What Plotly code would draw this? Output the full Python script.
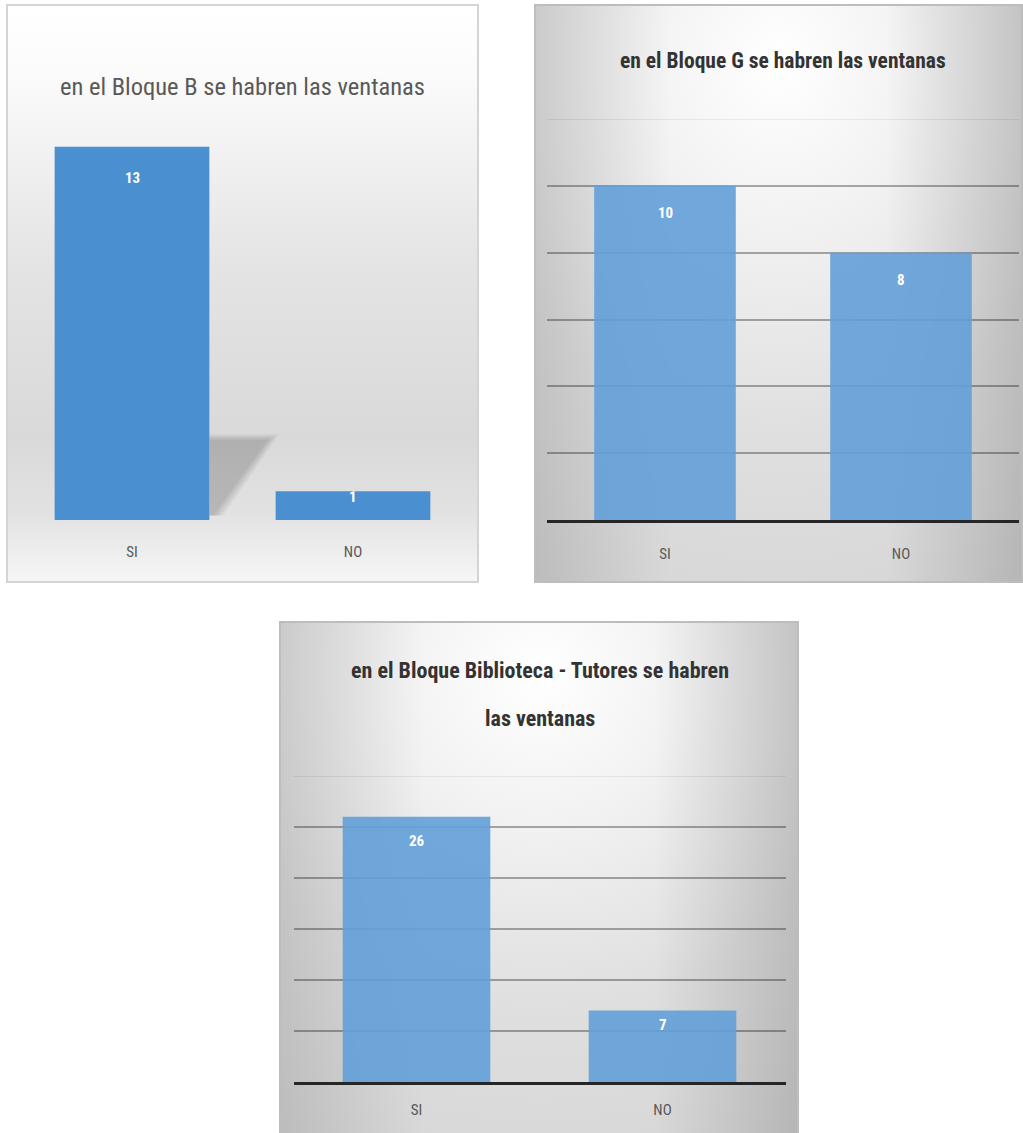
import base64
import plotly.graph_objects as go

# ---- data -------------------------------------------------------------
categories = ["SI", "NO"]
bloque_b = [13, 1]
bloque_g = [10, 8]
biblioteca = [26, 7]

title_b = "en el Bloque B se habren las ventanas"
title_g = "en el Bloque G se habren las ventanas"
title_bib = ["en el Bloque Biblioteca - Tutores se habren", "las ventanas"]

# ---- page geometry (pixels) ------------------------------------------
W, H = 1023, 1133
COND = "Roboto Condensed, DejaVu Sans Condensed, sans-serif"


def px_x(x0, x1):
    return [x0 / W, x1 / W]


def px_y(top, bottom):
    return [1 - bottom / H, 1 - top / H]


def svg_uri(svg):
    return "data:image/svg+xml;base64," + base64.b64encode(svg.encode()).decode()


def stops_xml(stops):
    out = []
    for o, c, *a in stops:
        op = f' stop-opacity="{a[0]}"' if a else ""
        out.append(f'<stop offset="{o}" stop-color="{c}"{op}/>')
    return "".join(out)


def linear_bg(w, h, stops):
    return svg_uri(
        f'<svg xmlns="http://www.w3.org/2000/svg" width="{w}" height="{h}" '
        f'viewBox="0 0 {w} {h}" preserveAspectRatio="none">'
        f'<defs><linearGradient id="g" x1="0" y1="0" x2="0" y2="1">{stops_xml(stops)}'
        f'</linearGradient></defs><rect width="{w}" height="{h}" fill="url(#g)"/></svg>'
    )


def radial_bg(w, h, stops, edge, cx="50%", cy="10%", r="100%"):
    return svg_uri(
        f'<svg xmlns="http://www.w3.org/2000/svg" width="{w}" height="{h}" '
        f'viewBox="0 0 {w} {h}" preserveAspectRatio="none"><defs>'
        f'<radialGradient id="g" cx="{cx}" cy="{cy}" r="{r}">{stops_xml(stops)}</radialGradient>'
        f'<linearGradient id="e" x1="0" y1="0" x2="1" y2="0">{stops_xml(edge)}</linearGradient>'
        f'</defs><rect width="{w}" height="{h}" fill="url(#g)"/>'
        f'<rect width="{w}" height="{h}" fill="url(#e)"/></svg>'
    )


# panel frames: (left, top, right, bottom)
frames = [(7, 5, 478, 582), (535, 5, 1022, 582), (280, 622, 798, 1140)]

# plot areas: (left, top, right, bottom, ymax)
plots = [
    (21.5, 118, 463.5, 520, 14),
    (547, 119, 1019, 520, 12),
    (293.5, 776, 785.5, 1082, 30),
]

fig = go.Figure()

series = [bloque_b, bloque_g, biblioteca]
bar_colors = ["#4a8fd0", "rgba(99,160,217,0.9)", "rgba(99,160,217,0.9)"]
gaps = [0.3, 0.4, 0.4]
label_off = [31, 27, 24]

for i, vals in enumerate(series):
    n = "" if i == 0 else str(i + 1)
    fig.add_trace(go.Bar(
        x=categories, y=vals, xaxis="x" + n, yaxis="y" + n,
        width=1 - gaps[i],
        marker=dict(color=bar_colors[i], line=dict(width=0)),
        hoverinfo="x+y", showlegend=False,
    ))

layout = dict(
    width=W, height=H, margin=dict(l=0, r=0, t=0, b=0),
    paper_bgcolor="white", plot_bgcolor="rgba(0,0,0,0)",
    showlegend=False, images=[], shapes=[], annotations=[],
)

grid_dtick = [None, 2, 5]
tick_len = [18, 18, 12]
for i, (l, t, r, b, ymax) in enumerate(plots):
    n = "" if i == 0 else str(i + 1)
    xa = dict(
        domain=px_x(l, r), anchor="y" + n, type="category",
        range=[-0.5, 1.5], showgrid=False, zeroline=False,
        ticks="outside", ticklen=tick_len[i], tickcolor="rgba(0,0,0,0)",
        tickfont=dict(family=COND, size=15, color="#595959"),
        showline=(i > 0), linecolor="#262626", linewidth=3,
        fixedrange=True,
    )
    if i > 0:
        xa["layer"] = "above traces"
    ya = dict(
        domain=px_y(t, b), anchor="x" + n, range=[0, ymax],
        showticklabels=False, zeroline=False, fixedrange=True,
        showgrid=grid_dtick[i] is not None,
        gridcolor="rgba(0,0,0,0.32)", gridwidth=2,
    )
    if grid_dtick[i]:
        ya["tickmode"] = "array"
        ya["tickvals"] = list(range(grid_dtick[i], ymax, grid_dtick[i]))
        # faint rule at the top of the value axis
        layout["shapes"].append(dict(
            type="line", xref="x" + n + " domain", yref="y" + n,
            x0=0, x1=1, y0=ymax, y1=ymax, layer="below",
            line=dict(color="rgba(0,0,0,0.07)", width=2),
        ))
    layout["xaxis" + n] = xa
    layout["yaxis" + n] = ya

    # value labels inside each bar, near its top
    ppu = (b - t) / ymax
    for c, v in zip(categories, series[i]):
        shift = min(label_off[i], v * ppu * 0.2)
        layout["annotations"].append(dict(
            x=c, y=v, xref="x" + n, yref="y" + n, yshift=-shift,
            text=f"<b>{v}</b>", showarrow=False, yanchor="middle",
            font=dict(family=COND, size=15, color="white"),
        ))

# panel backgrounds
edge = [(0, "#000000", 0.12), (0.28, "#000000", 0), (0.72, "#000000", 0), (1, "#000000", 0.15)]
bgs = [
    linear_bg(471, 577, [(0, "#ffffff"), (0.12, "#fbfbfb"), (0.45, "#e4e4e4"),
                         (0.75, "#d9d9d9"), (0.88, "#e2e2e2"), (1, "#f6f6f6")]),
    radial_bg(487, 577, [(0, "#ffffff"), (0.3, "#f1f1f1"), (0.65, "#dfdfdf"),
                         (1, "#d6d6d6")], edge),
    radial_bg(518, 518, [(0, "#ffffff"), (0.3, "#f1f1f1"), (0.65, "#dfdfdf"),
                         (1, "#d6d6d6")], edge),
]
for (l, t, r, b), src in zip(frames, bgs):
    layout["images"].append(dict(
        source=src, xref="paper", yref="paper",
        x=l / W, y=1 - t / H, sizex=(r - l) / W, sizey=(b - t) / H,
        sizing="stretch", layer="below", xanchor="left", yanchor="top",
    ))

frame_colors = ["#d4d4d4", "#bdbdbd", "#bdbdbd"]
for (l, t, r, b), fc in zip(frames, frame_colors):
    layout["shapes"].append(dict(
        type="rect", xref="paper", yref="paper",
        x0=l / W, x1=r / W, y0=1 - b / H, y1=1 - t / H,
        line=dict(color=fc, width=2), layer="below",
    ))

# soft cast shadow behind the tall bar of the first panel: a few translucent,
# slightly offset copies of the same wedge give it a blurred edge
half = (1 - gaps[0]) / 2
h0 = bloque_b[0]
for g in [0.024, 0.012, 0.0, -0.012, -0.024]:
    top = 0.222 * h0 + g * 4
    layout["shapes"].append(dict(
        type="path", xref="x", yref="y", layer="below",
        path=(f"M {half},{top} L {half + 0.29 + g},{top} "
              f"L {half + 0.04 + g},{0.012 * h0} L {half},{0.012 * h0} Z"),
        fillcolor="rgba(0,0,0,0.04)", line=dict(width=0),
    ))

# titles
layout["annotations"] += [
    dict(text=title_b, x=242 / W, y=1 - 87 / H, xref="paper", yref="paper",
         showarrow=False, xanchor="center", yanchor="middle",
         font=dict(family=COND, size=24.5, color="#595959")),
    dict(text="<b>" + title_g + "</b>", x=783 / W, y=1 - 60 / H, xref="paper", yref="paper",
         showarrow=False, xanchor="center", yanchor="middle",
         font=dict(family=COND, size=21.5, color="#333333")),
]
for line, yc in zip(title_bib, [670, 718]):
    layout["annotations"].append(dict(
        text="<b>" + line + "</b>", x=540 / W, y=1 - yc / H, xref="paper", yref="paper",
        showarrow=False, xanchor="center", yanchor="middle",
        font=dict(family=COND, size=22, color="#333333"),
    ))

fig.update_layout(**layout)
fig.write_html("out.html")
